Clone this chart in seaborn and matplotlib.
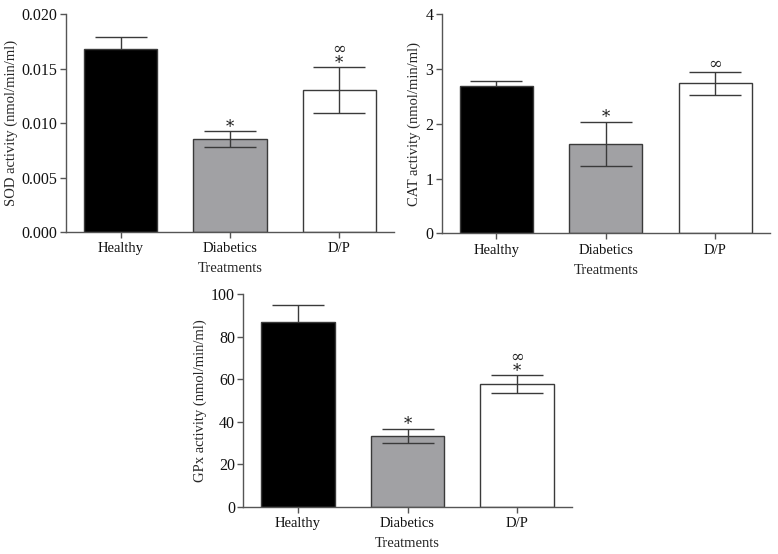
import matplotlib
matplotlib.use('Agg')
import matplotlib.pyplot as plt
import seaborn as sns
import pandas as pd

# Data
treatments = ['Healthy', 'Diabetics', 'D/P']

sod_mean = [0.0168, 0.00853, 0.0130]
sod_err = [0.0011, 0.0007, 0.0021]
sod_marks = ['', '*', '∞\n*']

cat_mean = [2.69, 1.63, 2.74]
cat_err = [0.10, 0.40, 0.21]
cat_marks = ['', '*', '∞']

gpx_mean = [86.8, 33.3, 57.6]
gpx_err = [8.0, 3.3, 4.2]
gpx_marks = ['', '*', '∞\n*']

colors = ['#000000', '#a1a0a5', '#ffffff']

sns.set_style('ticks')
plt.rcParams['font.family'] = ['Liberation Serif', 'DejaVu Serif']
plt.rcParams['font.size'] = 10

fig = plt.figure(figsize=(7.78, 5.54), dpi=100)
ax1 = fig.add_axes([0.0848, 0.5812, 0.4216, 0.3935])
ax2 = fig.add_axes([0.5677, 0.5789, 0.4220, 0.3953])
ax3 = fig.add_axes([0.3127, 0.0854, 0.4222, 0.3834])


def draw_panel(ax, means, errs, marks, ylabel, ymax, step, fmt):
    df = pd.DataFrame({'treatment': treatments, 'value': means})
    sns.barplot(data=df, x='treatment', y='value', hue='treatment',
                palette=colors, legend=False, width=0.67,
                edgecolor='#3a3a3a', linewidth=1.0, ax=ax)
    for p in ax.patches:
        p.set_zorder(2)
    for i in range(3):
        # the black bar hides the lower half of its own error bar
        z = 1 if i == 0 else 5
        ax.errorbar(i, means[i], yerr=errs[i], fmt='none', ecolor='#3a3a3a',
                    elinewidth=1.0, capsize=19, capthick=1.0, zorder=z)
    for i, m in enumerate(marks):
        if not m:
            continue
        off = -3 if m.endswith('*') else -1
        ax.annotate(m, (i, means[i] + errs[i]), xytext=(0, off),
                    textcoords='offset points', ha='center', va='bottom',
                    fontsize=12, linespacing=0.72, color='#222222',
                    family=['DejaVu Serif'])
    ax.set_xlim(-0.5, 2.5)
    ax.set_ylim(0, ymax)
    ticks = [k * step for k in range(int(round(ymax / step)) + 1)]
    ax.set_yticks(ticks)
    ax.set_yticklabels([fmt.format(t) for t in ticks])
    ax.set_xlabel('Treatments', fontsize=10.5, labelpad=5)
    ax.set_ylabel(ylabel, fontsize=10.5, labelpad=3)
    sns.despine(ax=ax)
    for s in ['left', 'bottom']:
        ax.spines[s].set_color('#555555')
        ax.spines[s].set_linewidth(1.0)
    ax.tick_params(axis='both', direction='out', length=4, width=1.0,
                   color='#555555', labelsize=10.5, labelcolor='#111111')
    ax.tick_params(axis='y', labelsize=11.5, pad=2)


draw_panel(ax1, sod_mean, sod_err, sod_marks,
           'SOD activity (nmol/min/ml)', 0.020, 0.005, '{:.3f}')
draw_panel(ax2, cat_mean, cat_err, cat_marks,
           'CAT activity (nmol/min/ml)', 4, 1, '{:.0f}')
draw_panel(ax3, gpx_mean, gpx_err, gpx_marks,
           'GPx activity (nmol/min/ml)', 100, 20, '{:.0f}')

fig.savefig('out.png', dpi=100)
